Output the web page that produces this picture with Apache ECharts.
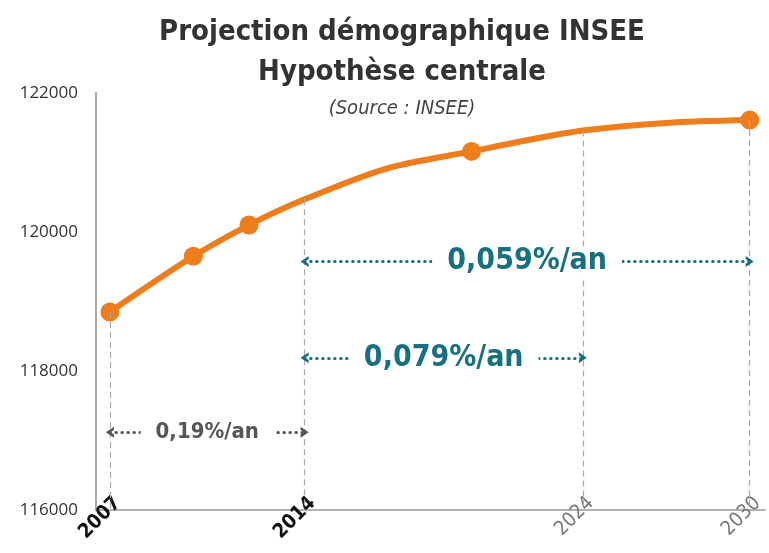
<!DOCTYPE html>
<html>
<head>
<meta charset="utf-8">
<script src="https://cdn.jsdelivr.net/npm/echarts@6/dist/echarts.min.js"></script>
<style>html,body{margin:0;padding:0;background:#fff}#c{width:769px;height:553px}</style>
</head>
<body>
<div id="c"></div>
<script>
// ---- data ----
const years = [2007, 2010, 2012, 2014, 2017, 2020, 2022, 2024, 2027, 2030];
const population = [118850, 119650, 120100, 120470, 120920, 121160, 121320, 121460, 121570, 121610];
const markedYears = [2007, 2010, 2012, 2020, 2030];
const tickYears = [2007, 2014, 2024, 2030];
const boldTickYears = [2007, 2014];
const guideYears = [2007, 2014, 2024, 2030];
const rateLabels = ['0,19%/an', '0,079%/an', '0,059%/an'];
const rateFrom = [2007, 2014, 2014];
const rateTo = [2014, 2024, 2030];
const rateLevel = [117120, 118190, 119575];
const yTicks = [116000, 118000, 120000, 122000];

// ---- styles ----
const FONT = "'DejaVu Sans Condensed','Open Sans',sans-serif";
const ORANGE = '#ef7d1c';
const TEAL = '#17707f';
const GREYTXT = '#555555';
const rateColors = [GREYTXT, TEAL, TEAL];
const rateSizes = [22, 30, 30];
const chevron = 'path://M0,10 L5,0 L10,10 L7,10 L5,5.6 L3,10 Z';

const valueAt = y => population[years.indexOf(y)];

const lineData = years.map((y, i) => {
  const item = { value: [y, population[i]] };
  if (markedYears.indexOf(y) < 0) item.symbol = 'none';
  return item;
});

const guideLines = guideYears.map(y => [
  { coord: [y, valueAt(y)] },
  { coord: [y, yTicks[0]] }
]);

const rateLines = rateLabels.map((t, i) => [
  {
    coord: [rateFrom[i], rateLevel[i]],
    lineStyle: { color: rateColors[i], type: [0.5, 5.5], width: 3, cap: 'round' },
    label: {
      show: true, position: 'middle', formatter: t, color: rateColors[i],
      fontSize: rateSizes[i], fontWeight: 'bold', fontFamily: FONT,
      backgroundColor: '#fff', padding: [0, 15],
      verticalAlign: 'middle', distance: 0
    },
    itemStyle: { color: rateColors[i] }
  },
  { coord: [rateTo[i], rateLevel[i]] }
]);

const chart = echarts.init(document.getElementById('c'), null, { renderer: 'canvas' });
chart.setOption({
  animation: false,
  backgroundColor: '#fff',
  title: {
    text: 'Projection démographique INSEE\nHypothèse centrale',
    subtext: '(Source : INSEE)',
    left: 397, top: 7, textAlign: 'center', itemGap: 7,
    textStyle: { fontFamily: FONT, fontSize: 29, fontWeight: 'bold', color: '#333', lineHeight: 40 },
    subtextStyle: { fontFamily: FONT, fontSize: 20, fontStyle: 'italic', color: '#444' }
  },
  grid: { left: 96, right: 4, top: 93, bottom: 43, containLabel: false, outerBoundsMode: 'none' },
  xAxis: {
    type: 'value', min: 2006.5, max: 2030.55,
    axisLine: { show: true, lineStyle: { color: '#999', width: 1.5 } },
    axisTick: { show: false },
    splitLine: { show: false },
    axisLabel: {
      customValues: tickYears, rotate: 45, margin: -2, padding: [0, -11, 0, 0],
      formatter: v => boldTickYears.indexOf(v) >= 0 ? '{b|' + v + '}' : '{n|' + v + '}',
      rich: {
        b: { fontFamily: FONT, fontSize: 20, fontWeight: 'bold', color: '#111' },
        n: { fontFamily: FONT, fontSize: 20, color: '#777' }
      }
    }
  },
  yAxis: {
    type: 'value', min: 116000, max: 122000, interval: 2000,
    axisLine: { show: true, lineStyle: { color: '#aaa', width: 2 } },
    axisTick: { show: false },
    splitLine: { show: false },
    axisLabel: { fontFamily: "'Open Sans',sans-serif", fontSize: 17, color: '#333', margin: 18,
      formatter: v => String(v) }
  },
  series: [
    {
      type: 'line', data: [], silent: true,
      markLine: {
        silent: true, symbol: 'none', animation: false,
        lineStyle: { color: '#aaa', type: [6, 4], width: 1.2 },
        label: { show: false },
        data: guideLines
      },
      z: 1
    },
    {
      type: 'line', data: [], silent: true,
      markLine: {
        silent: true, animation: false,
        symbol: [chevron, chevron], symbolSize: [11, 8],
        data: rateLines
      },
      z: 2
    },
    {
      type: 'line', data: lineData, smooth: 0.3,
      symbol: 'circle', symbolSize: 19,
      lineStyle: { color: ORANGE, width: 6 },
      itemStyle: { color: ORANGE },
      z: 3
    }
  ]
});
</script>
</body>
</html>
